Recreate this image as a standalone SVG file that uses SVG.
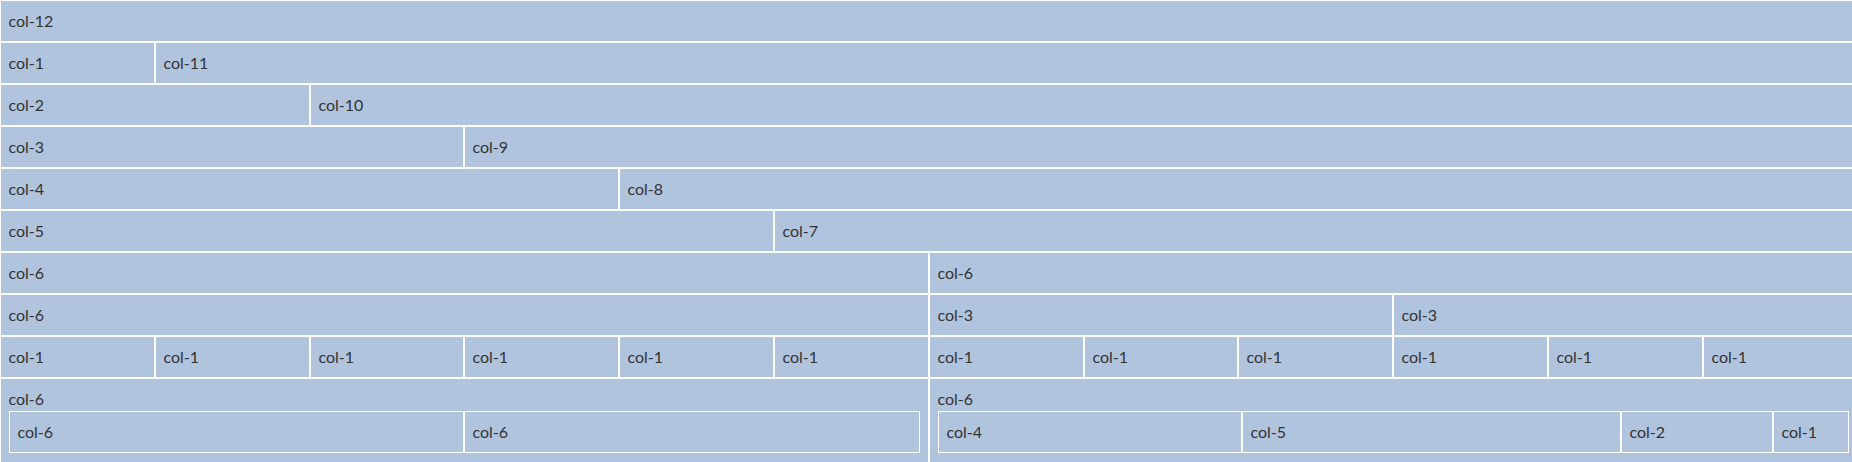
<svg xmlns="http://www.w3.org/2000/svg" width="1852" height="462" viewBox="0 0 1852 462">
<style>
.c{fill:#B0C4DE}
.n{fill:#B0C4DE;stroke:#FFFFFF;stroke-width:1}
text{font-family:Lato,"Liberation Sans",sans-serif;font-size:16px;fill:#333333}
</style>
<rect x="0" y="0" width="1852" height="462" fill="#FFFFFF"/>
<g id="r1">
<g id="r1c1"><rect class="c" x="1" y="1" width="1856" height="40"/><text x="8.5" y="27">col-12</text></g>
</g>
<g id="r2">
<g id="r2c1"><rect class="c" x="1" y="43" width="153" height="40"/><text x="8.5" y="69">col-1</text></g>
<g id="r2c2"><rect class="c" x="156" y="43" width="1701" height="40"/><text x="163.5" y="69">col-11</text></g>
</g>
<g id="r3">
<g id="r3c1"><rect class="c" x="1" y="85" width="308" height="40"/><text x="8.5" y="111">col-2</text></g>
<g id="r3c2"><rect class="c" x="311" y="85" width="1546" height="40"/><text x="318.5" y="111">col-10</text></g>
</g>
<g id="r4">
<g id="r4c1"><rect class="c" x="1" y="127" width="462" height="40"/><text x="8.5" y="153">col-3</text></g>
<g id="r4c2"><rect class="c" x="465" y="127" width="1392" height="40"/><text x="472.5" y="153">col-9</text></g>
</g>
<g id="r5">
<g id="r5c1"><rect class="c" x="1" y="169" width="617" height="40"/><text x="8.5" y="195">col-4</text></g>
<g id="r5c2"><rect class="c" x="620" y="169" width="1237" height="40"/><text x="627.5" y="195">col-8</text></g>
</g>
<g id="r6">
<g id="r6c1"><rect class="c" x="1" y="211" width="772" height="40"/><text x="8.5" y="237">col-5</text></g>
<g id="r6c2"><rect class="c" x="775" y="211" width="1082" height="40"/><text x="782.5" y="237">col-7</text></g>
</g>
<g id="r7">
<g id="r7c1"><rect class="c" x="1" y="253" width="927" height="40"/><text x="8.5" y="279">col-6</text></g>
<g id="r7c2"><rect class="c" x="930" y="253" width="927" height="40"/><text x="937.5" y="279">col-6</text></g>
</g>
<g id="r8">
<g id="r8c1"><rect class="c" x="1" y="295" width="927" height="40"/><text x="8.5" y="321">col-6</text></g>
<g id="r8c2"><rect class="c" x="930" y="295" width="462" height="40"/><text x="937.5" y="321">col-3</text></g>
<g id="r8c3"><rect class="c" x="1394" y="295" width="463" height="40"/><text x="1401.5" y="321">col-3</text></g>
</g>
<g id="r9">
<g id="r9c1"><rect class="c" x="1" y="337" width="153" height="40"/><text x="8.5" y="363">col-1</text></g>
<g id="r9c2"><rect class="c" x="156" y="337" width="153" height="40"/><text x="163.5" y="363">col-1</text></g>
<g id="r9c3"><rect class="c" x="311" y="337" width="152" height="40"/><text x="318.5" y="363">col-1</text></g>
<g id="r9c4"><rect class="c" x="465" y="337" width="153" height="40"/><text x="472.5" y="363">col-1</text></g>
<g id="r9c5"><rect class="c" x="620" y="337" width="153" height="40"/><text x="627.5" y="363">col-1</text></g>
<g id="r9c6"><rect class="c" x="775" y="337" width="153" height="40"/><text x="782.5" y="363">col-1</text></g>
<g id="r9c7"><rect class="c" x="930" y="337" width="153" height="40"/><text x="937.5" y="363">col-1</text></g>
<g id="r9c8"><rect class="c" x="1085" y="337" width="152" height="40"/><text x="1092.5" y="363">col-1</text></g>
<g id="r9c9"><rect class="c" x="1239" y="337" width="153" height="40"/><text x="1246.5" y="363">col-1</text></g>
<g id="r9c10"><rect class="c" x="1394" y="337" width="153" height="40"/><text x="1401.5" y="363">col-1</text></g>
<g id="r9c11"><rect class="c" x="1549" y="337" width="153" height="40"/><text x="1556.5" y="363">col-1</text></g>
<g id="r9c12"><rect class="c" x="1704" y="337" width="153" height="40"/><text x="1711.5" y="363">col-1</text></g>
</g>
<g id="r10">
<g id="r10c1"><rect class="c" x="1" y="379" width="927" height="90"/><text x="8.5" y="405">col-6</text>
<g id="r10c1n1"><rect class="n" x="9.5" y="411.5" width="454" height="41"/><text x="17.5" y="437.5">col-6</text></g>
<g id="r10c1n2"><rect class="n" x="464.5" y="411.5" width="455" height="41"/><text x="472.5" y="437.5">col-6</text></g>
</g>
<g id="r10c2"><rect class="c" x="930" y="379" width="927" height="90"/><text x="937.5" y="405">col-6</text>
<g id="r10c2n1"><rect class="n" x="938.5" y="411.5" width="303" height="41"/><text x="946.5" y="437.5">col-4</text></g>
<g id="r10c2n2"><rect class="n" x="1242.5" y="411.5" width="378" height="41"/><text x="1250.5" y="437.5">col-5</text></g>
<g id="r10c2n3"><rect class="n" x="1621.5" y="411.5" width="151" height="41"/><text x="1629.5" y="437.5">col-2</text></g>
<g id="r10c2n4"><rect class="n" x="1773.5" y="411.5" width="75" height="41"/><text x="1781.5" y="437.5">col-1</text></g>
</g>
</g>
</svg>
